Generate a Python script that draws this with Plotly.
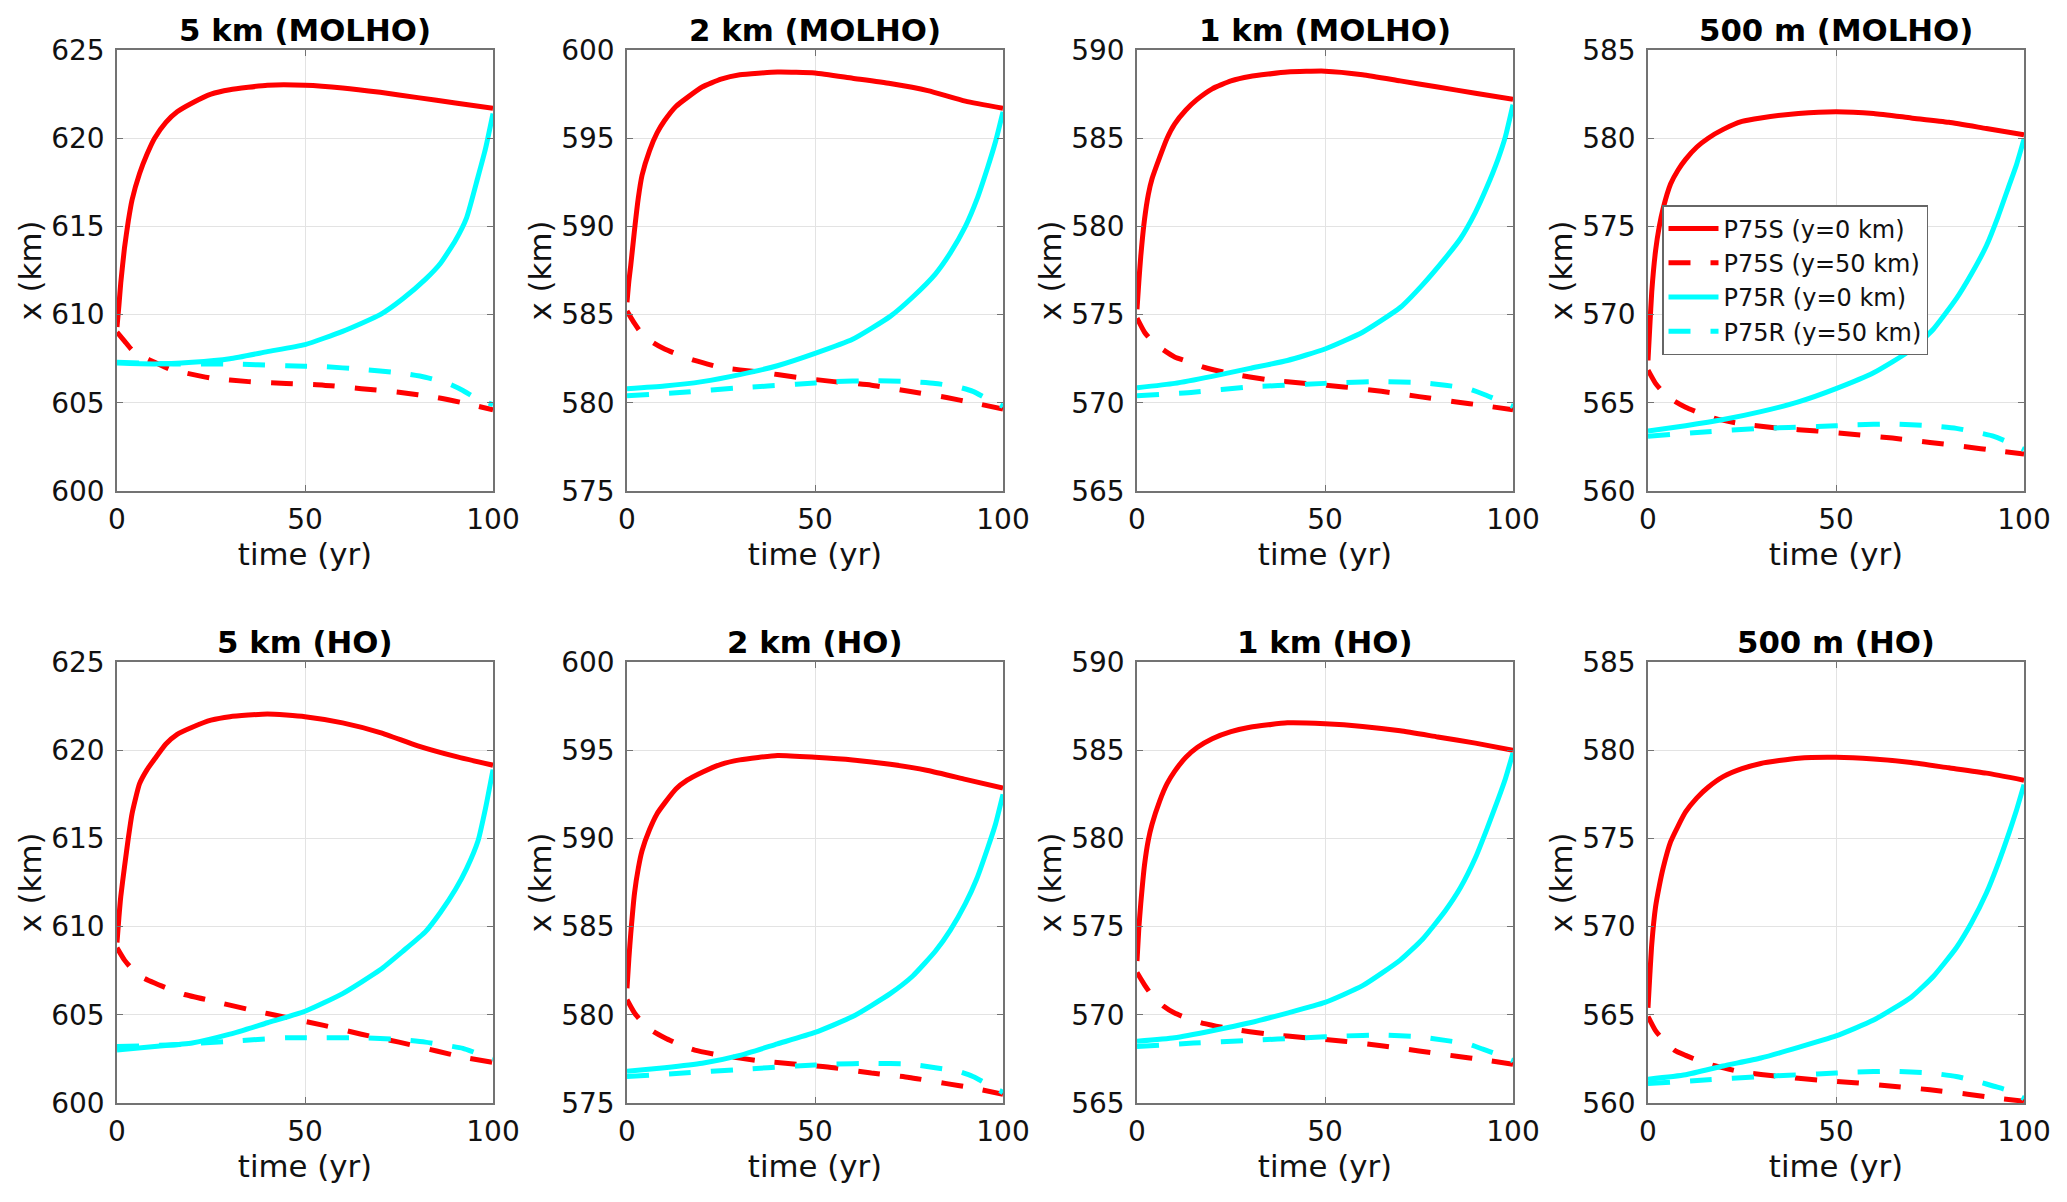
import plotly.graph_objects as go

# ---------------- data ----------------
titles = ["5 km (MOLHO)", "2 km (MOLHO)", "1 km (MOLHO)", "500 m (MOLHO)",
          "5 km (HO)", "2 km (HO)", "1 km (HO)", "500 m (HO)"]
y_ranges = [[600, 625], [575, 600], [565, 590], [560, 585],
            [600, 625], [575, 600], [565, 590], [560, 585]]
series_names = ["P75S (y=0 km)", "P75S (y=50 km)", "P75R (y=0 km)", "P75R (y=50 km)"]

# time grids (yr) for each series type
t_s0 = [0, 0.5, 1, 2, 3, 4, 6, 8, 10, 13, 16, 20, 25, 30, 40, 50, 60, 70, 80, 90, 100]
t_s50 = [0, 2, 4, 7, 10, 14, 18, 25, 35, 45, 55, 65, 75, 85, 92, 100]
t_r0 = [0, 10, 20, 30, 40, 50, 60, 70, 76, 82, 86, 90, 93, 96, 98, 100]
t_r50 = [0, 15, 30, 45, 55, 65, 75, 82, 88, 92, 96, 100]

# --- 5 km (MOLHO)
molho5_s0 = [609.3, 610.5, 611.8, 613.8, 615.3, 616.5, 618.0, 619.1, 620.0, 620.9, 621.5,
             622.0, 622.5, 622.75, 623.0, 623.0, 622.85, 622.6, 622.3, 622.0, 621.7]
molho5_s50 = [609.0, 608.5, 608.0, 607.6, 607.3, 606.9, 606.7, 606.4, 606.2, 606.1, 606.0,
              605.8, 605.6, 605.3, 605.0, 604.6]
molho5_r0 = [607.25, 607.2, 607.3, 607.5, 607.9, 608.3, 609.05, 610.0, 610.9, 612.0, 612.9,
             614.2, 615.5, 617.8, 619.4, 621.4]
molho5_r50 = [607.3, 607.2, 607.2, 607.1, 607.05, 606.9, 606.7, 606.45, 606.1, 605.7, 605.2, 604.9]

# --- 2 km (MOLHO)
molho2_s0 = [585.7, 586.9, 587.8, 589.8, 591.6, 592.9, 594.3, 595.3, 596.0, 596.8, 597.3,
             597.9, 598.35, 598.6, 598.75, 598.7, 598.4, 598.1, 597.7, 597.1, 596.7]
molho2_s50 = [585.2, 584.5, 583.9, 583.4, 583.05, 582.7, 582.4, 582.0, 581.75, 581.45, 581.2,
              581.0, 580.65, 580.3, 580.0, 579.65]
molho2_r0 = [580.8, 580.95, 581.2, 581.6, 582.1, 582.8, 583.6, 584.9, 586.0, 587.3, 588.5,
             590.0, 591.5, 593.4, 594.8, 596.5]
molho2_r50 = [580.4, 580.6, 580.85, 581.05, 581.2, 581.25, 581.2, 581.1, 580.9, 580.65, 580.2, 579.8]

# --- 1 km (MOLHO)
molho1_s0 = [575.3, 576.9, 578.3, 580.4, 581.8, 582.7, 583.9, 585.0, 585.8, 586.6, 587.2,
             587.8, 588.25, 588.5, 588.75, 588.8, 588.6, 588.25, 587.9, 587.55, 587.2]
molho1_s50 = [574.8, 574.0, 573.5, 573.0, 572.6, 572.3, 572.0, 571.65, 571.3, 571.1, 570.9,
              570.65, 570.35, 570.05, 569.85, 569.6]
molho1_r0 = [570.85, 571.1, 571.5, 571.95, 572.4, 573.05, 574.0, 575.4, 576.7, 578.2, 579.3,
             580.8, 582.2, 583.8, 585.1, 586.9]
molho1_r50 = [570.4, 570.6, 570.9, 571.05, 571.15, 571.2, 571.15, 571.0, 570.8, 570.5, 570.15, 569.8]

# --- 500 m (MOLHO)
molho05_s0 = [567.4, 569.4, 571.3, 573.6, 575.0, 576.0, 577.4, 578.2, 578.8, 579.5, 580.0,
              580.5, 580.95, 581.15, 581.4, 581.5, 581.4, 581.15, 580.9, 580.55, 580.2]
molho05_s50 = [566.85, 566.1, 565.6, 565.1, 564.75, 564.4, 564.1, 563.8, 563.55, 563.4, 563.2,
               563.0, 562.75, 562.5, 562.3, 562.1]
molho05_r0 = [563.4, 563.7, 564.05, 564.5, 565.05, 565.8, 566.7, 568.0, 569.2, 570.9, 572.3,
              573.9, 575.5, 577.3, 578.5, 579.95]
molho05_r50 = [563.1, 563.35, 563.55, 563.65, 563.75, 563.8, 563.7, 563.55, 563.3, 563.1, 562.75, 562.35]

# --- 5 km (HO)
ho5_s0 = [609.1, 610.5, 611.7, 613.4, 615.0, 616.4, 618.1, 618.9, 619.5, 620.35, 620.9,
          621.3, 621.7, 621.9, 622.05, 621.9, 621.55, 621.0, 620.25, 619.65, 619.15]
ho5_s50 = [608.8, 608.1, 607.6, 607.1, 606.8, 606.45, 606.15, 605.8, 605.3, 604.85, 604.4,
           603.9, 603.45, 602.95, 602.6, 602.3]
ho5_r0 = [603.0, 603.2, 603.4, 603.9, 604.55, 605.2, 606.2, 607.55, 608.6, 609.7, 610.8,
          612.1, 613.3, 614.85, 616.7, 618.9]
ho5_r50 = [603.2, 603.3, 603.5, 603.7, 603.7, 603.7, 603.6, 603.45, 603.25, 603.1, 602.8, 602.5]

# --- 2 km (HO)
ho2_s0 = [581.5, 583.2, 584.6, 586.9, 588.3, 589.3, 590.5, 591.4, 592.0, 592.8, 593.3,
          593.75, 594.2, 594.45, 594.7, 594.6, 594.45, 594.2, 593.85, 593.35, 592.85]
ho2_s50 = [580.85, 580.1, 579.6, 579.05, 578.7, 578.3, 578.0, 577.7, 577.4, 577.2, 577.0,
           576.7, 576.45, 576.1, 575.85, 575.5]
ho2_r0 = [576.8, 577.0, 577.25, 577.7, 578.35, 579.0, 579.9, 581.2, 582.2, 583.6, 584.8,
          586.3, 587.7, 589.5, 590.8, 592.5]
ho2_r50 = [576.5, 576.7, 576.9, 577.1, 577.2, 577.25, 577.2, 577.0, 576.8, 576.5, 576.05, 575.6]

# --- 1 km (HO)
ho1_s0 = [573.05, 574.95, 576.3, 578.5, 579.9, 580.8, 582.1, 583.1, 583.8, 584.6, 585.15,
          585.65, 586.05, 586.3, 586.55, 586.5, 586.35, 586.1, 585.75, 585.4, 585.0]
ho1_s50 = [572.4, 571.7, 571.1, 570.5, 570.1, 569.75, 569.5, 569.2, 568.9, 568.7, 568.5,
           568.25, 567.95, 567.65, 567.45, 567.2]
ho1_r0 = [568.5, 568.7, 569.1, 569.55, 570.1, 570.7, 571.65, 573.1, 574.3, 575.9, 577.2,
          578.9, 580.5, 582.2, 583.4, 584.85]
ho1_r50 = [568.2, 568.4, 568.55, 568.7, 568.8, 568.85, 568.75, 568.55, 568.35, 568.05, 567.75, 567.4]

# --- 500 m (HO)
ho05_s0 = [565.4, 567.3, 569.0, 571.1, 572.3, 573.3, 574.8, 575.7, 576.5, 577.3, 577.9,
           578.5, 578.95, 579.25, 579.55, 579.6, 579.5, 579.3, 579.0, 578.7, 578.3]
ho05_s50 = [564.9, 564.1, 563.6, 563.0, 562.7, 562.35, 562.1, 561.75, 561.5, 561.3, 561.15,
            560.95, 560.75, 560.5, 560.3, 560.1]
ho05_r0 = [561.35, 561.6, 562.1, 562.55, 563.15, 563.8, 564.7, 566.0, 567.2, 568.8, 570.2,
           571.9, 573.5, 575.3, 576.6, 578.05]
ho05_r50 = [561.1, 561.3, 561.5, 561.65, 561.75, 561.8, 561.7, 561.5, 561.2, 560.95, 560.7, 560.25]

panels = [
    (molho5_s0, molho5_s50, molho5_r0, molho5_r50),
    (molho2_s0, molho2_s50, molho2_r0, molho2_r50),
    (molho1_s0, molho1_s50, molho1_r0, molho1_r50),
    (molho05_s0, molho05_s50, molho05_r0, molho05_r50),
    (ho5_s0, ho5_s50, ho5_r0, ho5_r50),
    (ho2_s0, ho2_s50, ho2_r0, ho2_r50),
    (ho1_s0, ho1_s50, ho1_r0, ho1_r50),
    (ho05_s0, ho05_s50, ho05_r0, ho05_r50),
]
time_grids = [t_s0, t_s50, t_r0, t_r50]

# ---------------- style / layout ----------------
W, H = 2067, 1202
col_px = [(117, 493), (627, 1003), (1137, 1513), (1648, 2024)]
row_px = [(50, 491), (662, 1103)]
colors = ["#ff0000", "#ff0000", "#00ffff", "#00ffff"]
dashes = ["solid", "22px,20px", "solid", "22px,20px"]
FONT = "DejaVu Sans"
TICK_FS = 28
LABEL_FS = 30.8
AX_COLOR = "#737373"
TXT = "#111111"

fig = go.Figure()
annotations = []
layout = {}
for i in range(8):
    r, c = divmod(i, 4)
    n = i + 1
    xa = "x" if n == 1 else f"x{n}"
    ya = "y" if n == 1 else f"y{n}"
    for k in range(4):
        fig.add_trace(go.Scatter(
            x=time_grids[k], y=panels[i][k], mode="lines",
            name=series_names[k],
            showlegend=(i == 3),
            line=dict(color=colors[k], width=5, dash=dashes[k],
                      shape="spline", smoothing=0.5),
            xaxis=xa, yaxis=ya,
        ))
    x0, x1 = col_px[c]
    y0, y1 = row_px[r]
    common = dict(
        showline=True, linecolor=AX_COLOR, linewidth=1.5, mirror="ticks",
        ticks="inside", ticklen=6, tickwidth=1.2, tickcolor=AX_COLOR,
        showgrid=True, gridcolor="#e3e3e3", gridwidth=1, zeroline=False,
        tickfont=dict(family=FONT, size=TICK_FS, color=TXT),
        automargin=False,
    )
    layout[f"xaxis{'' if n == 1 else n}"] = dict(
        domain=[x0 / W, x1 / W], anchor=ya, range=[0, 100], dtick=50, tick0=0,
        ticklabelstandoff=3,
        title=dict(text="time (yr)", font=dict(family=FONT, size=LABEL_FS, color=TXT), standoff=6),
        **common)
    layout[f"yaxis{'' if n == 1 else n}"] = dict(
        domain=[1 - y1 / H, 1 - y0 / H], anchor=xa, range=y_ranges[i], dtick=5,
        ticklabelstandoff=5,
        title=dict(text="x (km)", font=dict(family=FONT, size=LABEL_FS, color=TXT), standoff=0),
        **common)
    annotations.append(dict(
        text=f"<b>{titles[i]}</b>", xref="paper", yref="paper",
        x=(x0 + x1) / 2 / W, y=1 - (y0 - 20) / H, xanchor="center", yanchor="middle",
        showarrow=False, font=dict(family=FONT, size=LABEL_FS, color="#000000"),
    ))

fig.update_layout(
    template="none",
    width=W, height=H,
    margin=dict(l=0, r=0, t=0, b=0, autoexpand=False),
    paper_bgcolor="white", plot_bgcolor="white",
    font=dict(family=FONT, size=TICK_FS, color=TXT),
    annotations=annotations,
    legend=dict(
        x=1662 / W, y=1 - 205 / H, xanchor="left", yanchor="top",
        bgcolor="white", bordercolor="#666666", borderwidth=1.5,
        font=dict(family=FONT, size=24, color=TXT),
        itemwidth=50, tracegroupgap=0,
    ),
    **layout,
)

fig.write_html("out.html", config={"displayModeBar": False},
               post_script="document.body.style.margin='0px';")
